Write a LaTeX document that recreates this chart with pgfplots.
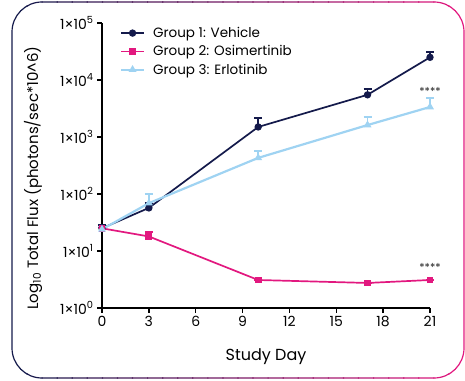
\documentclass[border=0pt]{standalone}
\usepackage{fontspec}
\setmainfont{Poppins}
\usepackage{pgfplots}
\pgfplotsset{compat=1.18}
\definecolor{navy}{HTML}{141A4B}
\definecolor{mag}{HTML}{E2187F}
\definecolor{lblue}{HTML}{9FD3F2}
\begin{document}
\begin{tikzpicture}[x=1pt,y=1pt]
\foreach \i in {0,...,29} {
  \pgfmathtruncatemacro\fr{100*\i/29}
  \begin{scope}
    \clip ({12+\i*452/30-0.6}, -5) rectangle ({12+(\i+1)*452/30+0.6}, 385);
    \draw[line width=1.2pt, draw=mag!\fr!navy, rounded corners=30pt] (12,2) rectangle (464,378);
  \end{scope}
}
\begin{axis}[
  at={(102pt,72pt)}, anchor=south west,
  scale only axis, width=328pt, height=285pt,
  xmin=0, xmax=21, ymin=1, ymax=1e5, ymode=log,
  axis x line=bottom, axis y line=left,
  axis line style={-, line width=1.3pt, black},
  xtick={0,3,...,21},
  ytick={1,10,100,1000,10000,100000},
  yticklabels={1×10\textsuperscript{0},1×10\textsuperscript{1},1×10\textsuperscript{2},1×10\textsuperscript{3},1×10\textsuperscript{4},1×10\textsuperscript{5}},
  yminorticks=false,
  tick align=outside, major tick length=5pt,
  tick style={black, line width=1.3pt},
  ticklabel style={font=\fontsize{14}{16}\selectfont},
  /pgf/number format/assume math mode=true,
  clip=false,
  legend style={at={(0.045,1.0)}, anchor=north west, draw=none, fill=none,
    font=\fontsize{13.5}{16}\selectfont, row sep=2.5pt},
  legend cell align=left,
  legend image code/.code={\draw[mark repeat=2,mark phase=2,#1] plot coordinates {(0pt,0pt) (11.5pt,0pt) (23pt,0pt)}; \path (29pt,0pt);},
]
\addplot[navy, line width=1.7pt, mark=*, mark size=2.8pt,
  error bars/.cd, y dir=plus, y explicit,
  error bar style={line width=1.5pt, navy},
  error mark options={rotate=90, mark size=4pt, line width=1.5pt, navy}]
  coordinates {(0,25) +- (0,3.6) (3,57) +- (0,13) (10,1500) +- (0,650) (17,5500) +- (0,1400) (21,25000) +- (0,6000)};
\addlegendentry{Group 1: Vehicle}
\addplot[mag, line width=1.7pt, mark=square*, mark size=2.6pt,
  error bars/.cd, y dir=plus, y explicit,
  error bar style={line width=1.5pt, mag},
  error mark options={rotate=90, mark size=4pt, line width=1.5pt, mag}]
  coordinates {(0,25) +- (0,1.5) (3,18) +- (0,3.5) (10,3.1) +- (0,0) (17,2.75) +- (0,0) (21,3.1) +- (0,0)};
\addlegendentry{Group 2: Osimertinib}
\addplot[lblue, line width=2.2pt, mark=triangle*, mark size=2.4pt,
  error bars/.cd, y dir=plus, y explicit,
  error bar style={line width=1.7pt, lblue},
  error mark options={rotate=90, mark size=4pt, line width=1.7pt, lblue}]
  coordinates {(0,24) +- (0,3) (3,69) +- (0,31) (10,430) +- (0,140) (17,1620) +- (0,620) (21,3360) +- (0,1440)};
\addlegendentry{Group 3: Erlotinib}
\node[font=\fontsize{11}{12}\selectfont, text=black!85] at (axis cs:21,6300) {****};
\node[font=\fontsize{11}{12}\selectfont, text=black!85] at (axis cs:21,5.1) {****};
\end{axis}
\node[rotate=90, font=\fontsize{15}{17}\selectfont] at (33,202) {Log\textsubscript{10} Total Flux (photons/sec*10\textasciicircum6)};
\node[font=\fontsize{16}{18}\selectfont] at (266,23) {Study Day};
\pgfresetboundingbox
\path[use as bounding box] (0,0) rectangle (465,380);
\end{tikzpicture}
\end{document}
